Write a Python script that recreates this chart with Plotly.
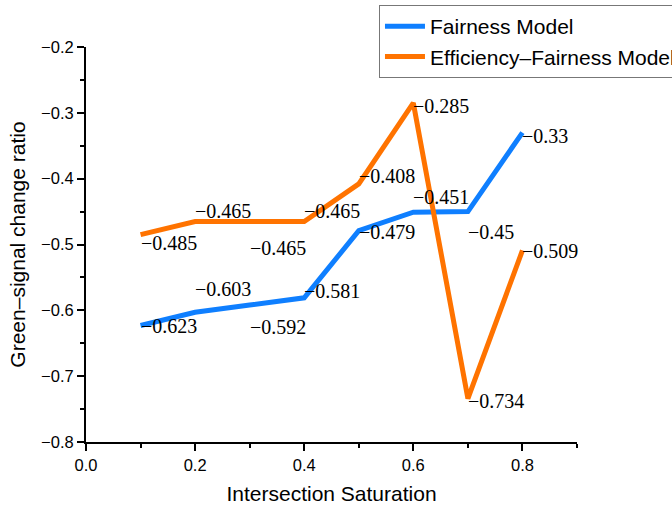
import plotly.graph_objects as go

# ---- data ----
saturation = [0.1, 0.2, 0.3, 0.4, 0.5, 0.6, 0.7, 0.8]
fairness = [-0.623, -0.603, -0.592, -0.581, -0.479, -0.451, -0.45, -0.33]
eff_fairness = [-0.485, -0.465, -0.465, -0.465, -0.408, -0.285, -0.734, -0.509]
series_names = ["Fairness Model", "Efficiency\u2013Fairness Model"]

# ---- label styling (vertical pixel offsets of value labels) ----
fair_label_dy = [-1, 23, -22, 7, -1, 15, -20, -3]
eff_label_dy = [-8, 10, -27, 10, 8, -3, -2, -1]

BLUE = "#0F7FFF"
ORANGE = "#FF7300"

fig = go.Figure()
fig.add_trace(go.Scatter(x=saturation, y=fairness, mode="lines", name=series_names[0],
                         line=dict(color=BLUE, width=5)))
fig.add_trace(go.Scatter(x=saturation, y=eff_fairness, mode="lines", name=series_names[1],
                         line=dict(color=ORANGE, width=5)))

def fmt(v):
    s = ("%.3f" % v).rstrip("0")
    return s.replace("-", "\u2212")

for ys, dys in ((fairness, fair_label_dy), (eff_fairness, eff_label_dy)):
    for x, y, dy in zip(saturation, ys, dys):
        fig.add_annotation(x=x, y=y, text=fmt(y), showarrow=False, xanchor="left",
                           yanchor="middle", yshift=dy, xshift=-1, borderpad=0,
                           font=dict(family="Liberation Serif, Times New Roman, serif",
                                     size=20, color="black"))

axis_font = dict(family="Liberation Sans, Arial, sans-serif", size=16.5, color="black")

fig.update_layout(
    width=672, height=506,
    margin=dict(l=86, r=95, t=47, b=64, autoexpand=False),
    paper_bgcolor="white", plot_bgcolor="white",
    font=axis_font,
    showlegend=True,
    legend=dict(x=0.5967, y=1.106, xanchor="left", yanchor="top",
                bordercolor="#777777", borderwidth=1, bgcolor="white",
                font=dict(family="Liberation Sans, Arial, sans-serif", size=21, color="black"),
                tracegroupgap=0, itemwidth=40),
    xaxis=dict(range=[0, 0.9], dtick=0.2, tick0=0, tickformat=".1f", automargin=False,
               showgrid=False, zeroline=False, showline=True, linecolor="black", linewidth=2,
               ticks="outside", ticklen=7, tickwidth=1.5, tickcolor="black",
               minor=dict(dtick=0.1, ticks="outside", ticklen=4, tickwidth=1.5, tickcolor="black", showgrid=False),
               tickfont=axis_font,
               title=dict(text="Intersection Saturation", standoff=14,
                          font=dict(family="Liberation Sans, Arial, sans-serif", size=21, color="black"))),
    yaxis=dict(range=[-0.8, -0.2], dtick=0.1, tick0=-0.8, tickformat=".1f", automargin=False,
               showgrid=False, zeroline=False, showline=True, linecolor="black", linewidth=2,
               ticks="outside", ticklen=7, tickwidth=1.5, tickcolor="black",
               minor=dict(dtick=0.05, ticks="outside", ticklen=4, tickwidth=1.5, tickcolor="black", showgrid=False),
               tickfont=axis_font,
               title=dict(text="Green\u2013signal change ratio", standoff=10,
                          font=dict(family="Liberation Sans, Arial, sans-serif", size=21, color="black"))),
)

fig.write_html("out.html", config={"displayModeBar": False},
               post_script="document.body.style.margin='0';document.body.style.padding='0';document.body.style.overflow='hidden';")
